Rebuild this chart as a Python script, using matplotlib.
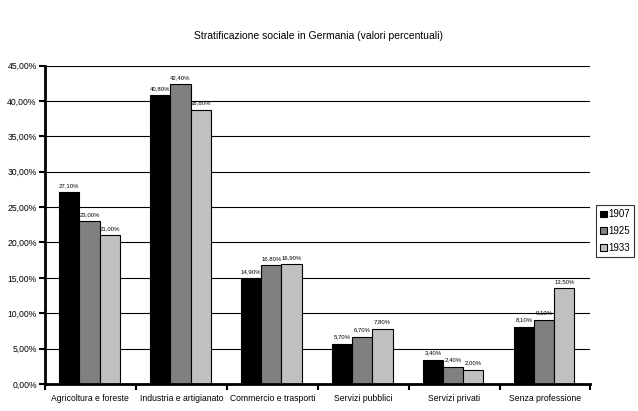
import numpy as np
import matplotlib.pyplot as plt
from matplotlib.ticker import FuncFormatter

categorie = ["Agricoltura e foreste", "Industria e artigianato", "Commercio e trasporti",
             "Servizi pubblici", "Servizi privati", "Senza professione"]
anni = ["1907", "1925", "1933"]
v1907 = [27.10, 40.80, 14.90, 5.70, 3.40, 8.10]
v1925 = [23.00, 42.40, 16.80, 6.70, 2.40, 9.10]
v1933 = [21.00, 38.80, 16.90, 7.80, 2.00, 13.50]
colori = ["#000000", "#808080", "#c0c0c0"]

plt.rcParams["font.family"] = ["Liberation Sans", "DejaVu Sans"]

fig = plt.figure(figsize=(6.38, 4.11), dpi=100)
ax = fig.add_axes([0.0705, 0.066, 0.855, 0.774])

x = np.arange(len(categorie))
w = 0.222
for i, (serie, col, anno) in enumerate(zip([v1907, v1925, v1933], colori, anni)):
    pos = x + (i - 1) * w - 0.01
    ax.bar(pos, serie, width=w, color=col, edgecolor="black", linewidth=0.8, label=anno, zorder=3)
    for p, v in zip(pos, serie):
        ax.text(p, v + 0.6, ("%.2f" % v).replace(".", ",") + "%", ha="center", va="bottom",
                fontsize=4.3, zorder=4)

ax.set_xlim(-0.5, len(categorie) - 0.5)
ax.set_ylim(0, 45)
ax.set_yticks(np.arange(0, 46, 5))
ax.yaxis.set_major_formatter(FuncFormatter(lambda v, _: ("%.2f" % v).replace(".", ",") + "%"))
ax.set_xticks(x)
ax.set_xticklabels(categorie)
ax.set_xticks(np.arange(-0.5, len(categorie)), minor=True)
ax.tick_params(axis="x", which="major", length=0, labelsize=6.2, pad=7)
ax.tick_params(axis="x", which="minor", length=4, width=1.5, direction="out")
ax.tick_params(axis="y", labelsize=6.2, length=4, width=1.5, direction="out", pad=2)
ax.grid(axis="y", color="black", linewidth=0.8, zorder=0)
for s in ["top", "right"]:
    ax.spines[s].set_visible(False)
ax.spines["left"].set_linewidth(2)
ax.spines["bottom"].set_linewidth(2)
ax.spines["bottom"].set_zorder(5)

fig.suptitle("Stratificazione sociale in Germania (valori percentuali)", fontsize=7.5, y=0.925)

leg = ax.legend(loc="center left", bbox_to_anchor=(1.005, 0.48), fontsize=7, frameon=True,
                fancybox=False, edgecolor="black", handlelength=0.7, handleheight=0.7,
                handletextpad=0.2, borderpad=0.4, labelspacing=0.7, borderaxespad=0.3)
leg.get_frame().set_linewidth(0.8)

fig.savefig("out.png", dpi=100)
